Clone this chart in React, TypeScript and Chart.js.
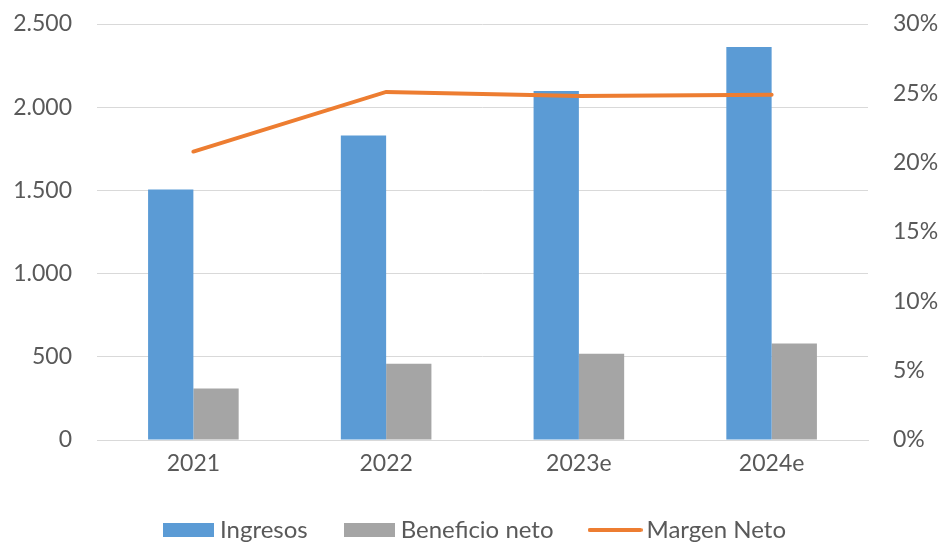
import React, { useEffect, useRef } from "react";
import { Chart, registerables } from "chart.js";

Chart.register(...registerables);

const categories = ["2021", "2022", "2023e", "2024e"];
const ingresos = [1505, 1830, 2098, 2362];
const beneficioNeto = [310, 458, 518, 580];
const margenNeto = [20.8, 25.1, 24.8, 24.9];
const leftTicks = [0, 500, 1000, 1500, 2000, 2500];
const rightTicks = [0, 5, 10, 15, 20, 25, 30];
const seriesNames = ["Ingresos", "Beneficio neto", "Margen Neto"];

const FONT = "Lato, 'Liberation Sans', sans-serif";
const TXT = "#595959";
const BLUE = "#5B9BD5";
const GRAY = "#A5A5A5";
const ORANGE = "#ED7D31";

function fmtThousands(v: number): string {
  return String(Math.round(v)).replace(/\B(?=(\d{3})+(?!\d))/g, ".");
}

function makeBox(color: string, w: number, h: number): HTMLCanvasElement {
  const c = document.createElement("canvas");
  c.width = w;
  c.height = h;
  const g = c.getContext("2d")!;
  g.fillStyle = color;
  g.fillRect(0, 0, w, h);
  return c;
}

function makeLine(color: string, w: number, h: number): HTMLCanvasElement {
  const c = document.createElement("canvas");
  c.width = w;
  c.height = h;
  const g = c.getContext("2d")!;
  g.strokeStyle = color;
  g.lineWidth = 4;
  g.lineCap = "round";
  g.beginPath();
  g.moveTo(2, h / 2);
  g.lineTo(w - 2, h / 2);
  g.stroke();
  return c;
}

export default function App() {
  const ref = useRef<HTMLCanvasElement | null>(null);
  useEffect(() => {
    document.body.style.margin = "0";
    const canvas = ref.current;
    if (!canvas) return;
    const blueBox = makeBox(BLUE, 51, 14);
    const grayBox = makeBox(GRAY, 51, 14);
    const orangeLine = makeLine(ORANGE, 55, 6);
    const chart = new Chart(canvas, {
      type: "bar",
      data: {
        labels: categories,
        datasets: [
          {
            type: "line",
            label: seriesNames[2],
            data: margenNeto,
            yAxisID: "y1",
            borderColor: ORANGE,
            backgroundColor: ORANGE,
            borderWidth: 4,
            borderCapStyle: "round",
            pointRadius: 0,
            tension: 0,
            order: 0,
          } as any,
          {
            type: "bar",
            label: seriesNames[0],
            data: ingresos,
            yAxisID: "y",
            backgroundColor: BLUE,
            barPercentage: 1,
            categoryPercentage: 0.47,
            order: 1,
          },
          {
            type: "bar",
            label: seriesNames[1],
            data: beneficioNeto,
            yAxisID: "y",
            backgroundColor: GRAY,
            barPercentage: 1,
            categoryPercentage: 0.47,
            order: 2,
          },
        ],
      },
      options: {
        responsive: false,
        animation: false,
        maintainAspectRatio: false,
        layout: { padding: { top: 24, left: 14, right: 0, bottom: 0 } },
        plugins: {
          tooltip: { enabled: false },
          legend: {
            position: "bottom",
            labels: {
              font: { family: FONT, size: 24 },
              color: TXT,
              usePointStyle: true,
              pointStyleWidth: 39,
              boxHeight: 14,
              padding: 42,
              generateLabels: () => [
                { text: seriesNames[0], fillStyle: BLUE, strokeStyle: BLUE, lineWidth: 0, pointStyle: blueBox, datasetIndex: 1, fontColor: TXT },
                { text: seriesNames[1], fillStyle: GRAY, strokeStyle: GRAY, lineWidth: 0, pointStyle: grayBox, datasetIndex: 2, fontColor: TXT },
                { text: seriesNames[2], fillStyle: ORANGE, strokeStyle: ORANGE, lineWidth: 0, pointStyle: orangeLine, datasetIndex: 0, fontColor: TXT },
              ] as any,
            },
          },
        },
        scales: {
          x: {
            grid: { display: false, drawTicks: false },
            border: { color: "#D9D9D9" },
            ticks: { font: { family: FONT, size: 23 }, color: TXT, padding: 10 },
            afterFit: (s: any) => { s.height = 36; },
          },
          y: {
            position: "left",
            min: 0,
            max: 2500,
            afterBuildTicks: (s: any) => { s.ticks = leftTicks.map((v) => ({ value: v })); },
            ticks: {
              font: { family: FONT, size: 23 },
              color: TXT,
              padding: 25,
              callback: (v: any) => fmtThousands(Number(v)),
            },
            grid: { color: "#D9D9D9", drawTicks: false },
            border: { display: false },
            afterFit: (s: any) => { s.width = 83; s.paddingTop = 14; s.paddingBottom = 14; },
          },
          y1: {
            position: "right",
            min: 0,
            max: 30,
            afterBuildTicks: (s: any) => { s.ticks = rightTicks.map((v) => ({ value: v })); },
            ticks: {
              font: { family: FONT, size: 23 },
              color: TXT,
              padding: 25,
              callback: (v: any) => `${v}%`,
            },
            grid: { display: false, drawTicks: false },
            border: { display: false },
            afterFit: (s: any) => { s.width = 73; s.paddingTop = 14; s.paddingBottom = 14; },
          },
        },
      },
    });
    return () => chart.destroy();
  }, []);
  return (
    <div style={{ width: 941, height: 542, overflow: "hidden", background: "#fff" }}>
      <canvas ref={ref} width={941} height={552} style={{ display: "block" }} />
    </div>
  );
}
